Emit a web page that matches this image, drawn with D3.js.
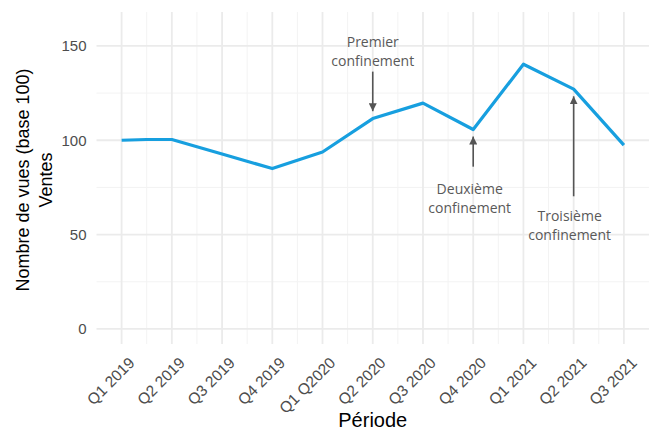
<!DOCTYPE html>
<html>
<head>
<meta charset="utf-8">
<script src="https://cdn.jsdelivr.net/npm/d3@7"></script>
<style>
  body { margin: 0; background: #fff; }
  svg { display: block; }
</style>
</head>
<body>
<svg id="chart"></svg>
<script>
const svgWidth = 652,
    svgHeight = 432;

// data
const periods = ["Q1 2019", "Q2 2019", "Q3 2019", "Q4 2019", "Q1 Q2020", "Q2 2020",
    "Q3 2020", "Q4 2020", "Q1 2021", "Q2 2021", "Q3 2021"];
const seriesX = [1, 1.5, 2, 3, 4, 5, 6, 7, 8, 9, 10, 11];
const seriesY = [100, 100.4, 100.4, 92.7, 85, 93.8, 111.5, 119.7, 105.7, 140.3, 127.1, 97.4];
const yTicks = [0, 50, 100, 150];
const yMinor = [25, 75, 125];

// annotations: label lines, x index, arrow from/to (data units), text centre
const annotations = [
    {lines: ["Premier", "confinement"], x: 6, from: 136.4, to: 115.4, tx: 6, ty: [152.3, 142]},
    {lines: ["Deuxième", "confinement"], x: 8, from: 86, to: 102, tx: 7.93, ty: [74.2, 64.1]},
    {lines: ["Troisième", "confinement"], x: 10, from: 70.3, to: 123.3, tx: 9.92, ty: [60, 49.9]}
];

const panel = {left: 96.5, right: 649, top: 12, bottom: 344};

const chart = d3.select("#chart")
    .attr("width", svgWidth)
    .attr("height", svgHeight);

var xScale = d3.scaleLinear().domain([0.5, 11.5]).range([panel.left, panel.right]);
var yScale = d3.scaleLinear().domain([-8, 168]).range([panel.bottom, panel.top]);

const xIdx = d3.range(1, periods.length + 1);
const xMinor = d3.range(1.5, periods.length, 1);

// grid
const grid = chart.append("g");
grid.selectAll(".hminor").data(yMinor).enter().append("line")
    .attr("x1", panel.left).attr("x2", panel.right)
    .attr("y1", d => yScale(d)).attr("y2", d => yScale(d))
    .attr("stroke", "#f3f3f3").attr("stroke-width", 1);
grid.selectAll(".vminor").data(xMinor).enter().append("line")
    .attr("y1", panel.top).attr("y2", panel.bottom)
    .attr("x1", d => xScale(d)).attr("x2", d => xScale(d))
    .attr("stroke", "#f3f3f3").attr("stroke-width", 1);
grid.selectAll(".hmajor").data(yTicks).enter().append("line")
    .attr("x1", panel.left).attr("x2", panel.right)
    .attr("y1", d => yScale(d)).attr("y2", d => yScale(d))
    .attr("stroke", "#ebebeb").attr("stroke-width", 1.8);
grid.selectAll(".vmajor").data(xIdx).enter().append("line")
    .attr("y1", panel.top).attr("y2", panel.bottom)
    .attr("x1", d => xScale(d)).attr("x2", d => xScale(d))
    .attr("stroke", "#ebebeb").attr("stroke-width", 1.8);

// y tick labels
chart.append("g").selectAll("text").data(yTicks).enter().append("text")
    .attr("x", panel.left - 10)
    .attr("y", d => yScale(d))
    .attr("dy", "0.36em")
    .attr("text-anchor", "end")
    .style("font-family", "Liberation Sans, Arial, sans-serif")
    .style("font-size", "15px")
    .style("fill", "#4d4d4d")
    .text(d => d);

// x tick labels
chart.append("g").selectAll("text").data(periods).enter().append("text")
    .attr("transform", (d, i) => "translate(" + (xScale(i + 1) + 6) + "," + 356 + ") rotate(-45)")
    .attr("dy", "0.72em")
    .attr("text-anchor", "end")
    .style("font-family", "Liberation Sans, Arial, sans-serif")
    .style("font-size", "15.5px")
    .style("fill", "#4d4d4d")
    .text(d => d);

// axis titles
chart.append("text")
    .attr("x", (panel.left + panel.right) / 2)
    .attr("y", 427)
    .attr("text-anchor", "middle")
    .style("font-family", "Liberation Sans, Arial, sans-serif")
    .style("font-size", "20px")
    .style("fill", "#000")
    .text("Période");

const yTitle = chart.append("text")
    .attr("transform", "translate(0," + ((panel.top + panel.bottom) / 2 + 2) + ") rotate(-90)")
    .attr("text-anchor", "middle")
    .style("font-family", "Liberation Sans, Arial, sans-serif")
    .style("font-size", "18px")
    .style("fill", "#000");
yTitle.append("tspan").attr("x", 0).attr("y", 29).text("Nombre de vues (base 100)");
yTitle.append("tspan").attr("x", 0).attr("y", 52).text("Ventes");

// line
var valueline = d3.line()
    .x(d => xScale(d[0]))
    .y(d => yScale(d[1]));

chart.append("path")
    .datum(seriesX.map((x, i) => [x, seriesY[i]]))
    .attr("d", valueline)
    .attr("fill", "none")
    .attr("stroke", "#179fdf")
    .attr("stroke-width", 3.2)
    .attr("stroke-linejoin", "round");

// annotations
chart.append("defs").append("marker")
    .attr("id", "arrow")
    .attr("viewBox", "0 0 10 10")
    .attr("refX", 10).attr("refY", 5)
    .attr("markerWidth", 5).attr("markerHeight", 5)
    .attr("markerUnits", "strokeWidth")
    .attr("orient", "auto")
    .append("path")
    .attr("d", "M0,0 L10,5 L0,10 z")
    .attr("fill", "#555");

const ann = chart.append("g");
annotations.forEach(a => {
    ann.append("line")
        .attr("x1", xScale(a.x)).attr("x2", xScale(a.x))
        .attr("y1", yScale(a.from)).attr("y2", yScale(a.to))
        .attr("stroke", "#555")
        .attr("stroke-width", 1.6)
        .attr("marker-end", "url(#arrow)");
    a.lines.forEach((t, j) => {
        ann.append("text")
            .attr("x", xScale(a.tx))
            .attr("y", yScale(a.ty[j]))
            .attr("dy", "0.35em")
            .attr("text-anchor", "middle")
            .style("font-family", "Open Sans, sans-serif")
            .style("font-size", "14px")
            .style("fill", "#595959")
            .text(t);
    });
});
</script>
</body>
</html>
